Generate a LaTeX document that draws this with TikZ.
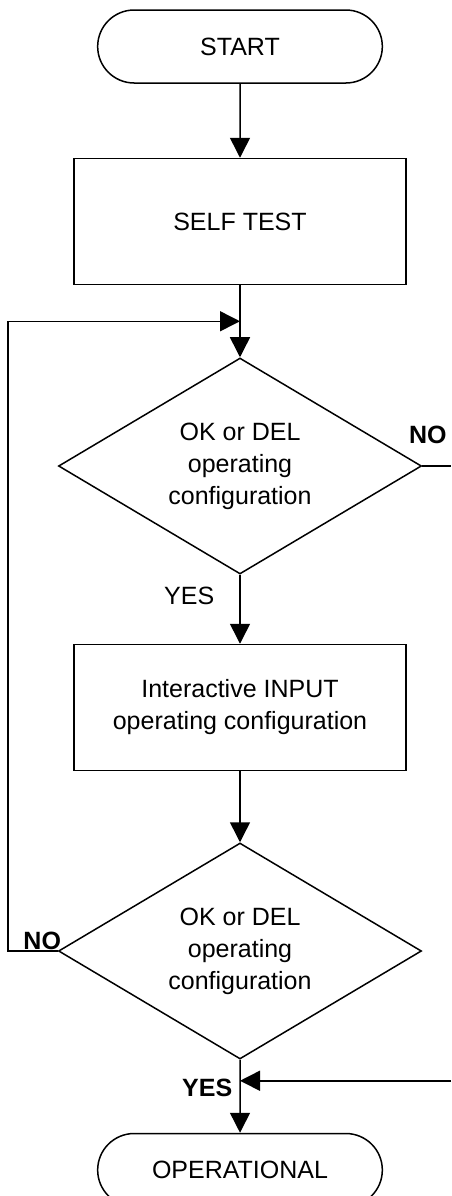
\documentclass[tikz,border=0pt]{standalone}
\usepackage{fontspec}
\setmainfont{Liberation Sans}
\usetikzlibrary{arrows.meta, positioning, shapes.geometric, shapes.misc}

\begin{document}
\begin{tikzpicture}[>={Triangle[length=10pt,width=10pt]}, line width=0.75pt, font=\fontsize{12.5}{16}\selectfont,
  term/.style={rounded rectangle, draw, minimum width=149pt, minimum height=36.5pt},
  proc/.style={rectangle, draw, minimum width=166pt, minimum height=63pt, align=center},
  decision/.style={diamond, draw, aspect=1.68, minimum width=181.5pt, minimum height=108pt, align=center, inner sep=0pt},
  lbl/.style={inner sep=0pt}]
  \useasboundingbox (0,0) rectangle (225.5pt,-598pt);

  \node[term] (start) at (120pt,-23.25pt) {START};
  \node[proc] (selftest) [below=37pt of start] {SELF TEST};
  \node[decision] (d1) [below=36pt of selftest] {OK or DEL\\operating\\configuration};
  \node[proc] (input) [below=34.5pt of d1] {Interactive INPUT\\operating configuration};
  \node[decision] (d2) [below=35.5pt of input] {OK or DEL\\operating\\configuration};
  \node[term] (oper) [below=36.5pt of d2] {OPERATIONAL};

  \coordinate[below=18pt of selftest.south] (merge);
  \coordinate[below=10.5pt of d2.south] (join);
  \coordinate (lft) at (4pt,0);
  \coordinate (rgt) at (225.5pt,0);

  \node[lbl, font=\fontsize{12.5}{16}\selectfont\bfseries] (no1) [above right=11pt and -7pt of d1.east] {NO};
  \node[lbl] (yes1) [below left=6pt and 12.5pt of d1.south] {YES};
  \node[lbl, font=\fontsize{12.5}{16}\selectfont\bfseries] (no2) [above left=0.5pt and -2pt of d2.west] {NO};
  \node[lbl, font=\fontsize{12.5}{16}\selectfont\bfseries] (yes2) [below left=9.5pt and 3.5pt of d2.south] {YES};

  \draw[->] (start) -- (selftest);
  \draw[->] (selftest) -- (d1);
  \draw[->] (d1) -- (input);
  \draw[->] (input) -- (d2);
  \draw[->] (d2) -- (oper);
  \draw[->] (d2.west) -| (lft |- merge) -- (merge);
  \draw (d1.east) -- (d1.east -| rgt);
  \draw[->] (join -| rgt) -- (join);
\end{tikzpicture}
\end{document}
